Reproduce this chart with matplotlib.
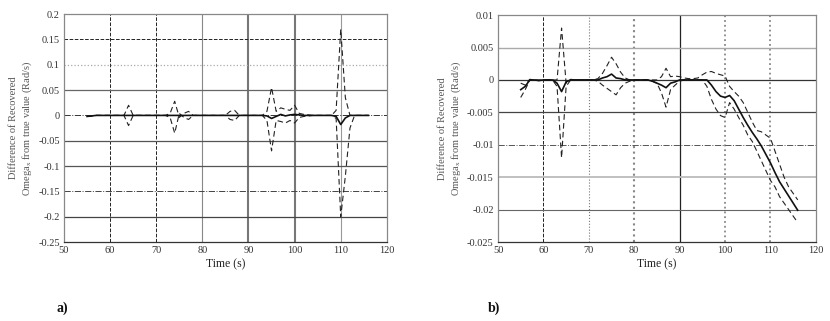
import numpy as np
import matplotlib
matplotlib.use("Agg")
import matplotlib.pyplot as plt

plt.rcParams['font.family'] = ['Liberation Serif', 'DejaVu Serif']
plt.rcParams['mathtext.fontset'] = 'custom'
plt.rcParams['mathtext.rm'] = 'Liberation Serif'
plt.rcParams['mathtext.it'] = 'Liberation Serif'

# time axis, 1 s steps
time = list(range(55, 117))

# panel a) values
a_mean = [-0.002, -0.001, 0, 0, 0, 0, 0, 0, 0, 0,
          0, 0, 0, 0, 0, 0, 0, 0, 0, 0,
          0, 0, 0, 0, 0, 0, 0, 0, 0, 0,
          0, 0, 0, 0, 0, 0, 0, 0, 0, -0.001,
          -0.006, -0.002, 0.002, -0.001, 0.001, 0.002, 0.001, 0, 0, 0,
          0, 0, 0, 0, -0.002, -0.018, -0.005, 0, 0, 0,
          0, 0]
a_upper = [-0.002, -0.001, 0, 0, 0, 0, 0, 0, 0, 0.02,
           0, 0, 0, 0, 0, 0, 0, 0, 0.004, 0.028,
           -0.004, 0.004, 0.008, 0, 0, 0, 0, 0, 0, 0,
           0, 0.008, 0.01, 0, 0, 0, 0, 0, 0, 0.008,
           0.055, 0.008, 0.015, 0.012, 0.01, 0.02, 0.004, 0.002, 0.001, 0,
           0, 0, 0, 0, 0.01, 0.17, 0.035, 0, 0, 0,
           0, 0]
a_lower = [-0.002, -0.001, 0, 0, 0, 0, 0, 0, 0, -0.02,
           0, 0, 0, 0, 0, 0, 0, 0, -0.004, -0.035,
           0.004, -0.004, -0.008, 0, 0, 0, 0, 0, 0, 0,
           0, -0.008, -0.01, 0, 0, 0, 0, 0, 0, -0.01,
           -0.07, -0.01, -0.012, -0.015, -0.01, -0.015, -0.004, -0.002, -0.001, 0,
           0, 0, 0, 0, -0.006, -0.2, -0.12, -0.025, 0, 0,
           0, 0]

# panel b) values
b_mean = [-0.0015, -0.001, 0, 0, -0.0001, 0, 0, 0, -0.0005, -0.0018,
          -0.0003, 0, 0, 0, 0, 0, 0, 0, 0.0003, 0.0005,
          0.0009, 0.0003, 0.0002, 0, 0, 0, 0, 0, 0, -0.0002,
          -0.0005, -0.0008, -0.0012, -0.0005, -0.0003, 0, 0, 0, 0, 0,
          0, 0, -0.0008, -0.0018, -0.0025, -0.0027, -0.0024, -0.0032, -0.0045, -0.0058,
          -0.007, -0.0081, -0.0091, -0.0102, -0.0115, -0.0128, -0.0143, -0.0157, -0.0168, -0.0179,
          -0.019, -0.0201]
b_upper = [-0.0005, -0.0008, 0.0001, 0, 0, 0, 0, 0, 0, 0.008,
           -0.0005, 0.0001, 0, 0, 0, 0, 0, 0.0002, 0.001, 0.0022,
           0.0035, 0.0025, 0.0012, 0.0003, 0, 0, 0, 0, 0, 0,
           0, 0.0005, 0.0018, 0.0005, 0.0006, 0.0005, 0.0003, 0.0002, 0.0002, 0.0003,
           0.0008, 0.0012, 0.0013, 0.001, 0.0008, 0.0006, -0.001, -0.0018, -0.0025, -0.0035,
           -0.005, -0.0065, -0.0078, -0.008, -0.0085, -0.009, -0.011, -0.013, -0.015, -0.0165,
           -0.0175, -0.0185]
b_lower = [-0.0027, -0.0015, 0, 0, -0.0001, 0, 0, 0, -0.001, -0.012,
           -0.001, 0, 0, 0, 0, 0, 0, -0.0002, -0.0008, -0.0013,
           -0.0018, -0.0023, -0.0012, -0.0005, -0.0002, 0, 0, 0, 0, -0.0002,
           -0.0005, -0.002, -0.0042, -0.0015, -0.0008, -0.0002, 0, 0, 0, 0,
           0, -0.001, -0.003, -0.0045, -0.0055, -0.0058, -0.0035, -0.0045, -0.0058, -0.007,
           -0.0085, -0.0095, -0.011, -0.0125, -0.014, -0.0155, -0.0165, -0.018, -0.019, -0.02,
           -0.021, -0.022]

x_ticks = [50, 60, 70, 80, 90, 100, 110, 120]
a_yticks = [0.2, 0.15, 0.1, 0.05, 0, -0.05, -0.1, -0.15, -0.2, -0.25]
a_ylabels = ['0.2', '0.15', '0.1', '0.05', '0', '-0.05', '-0.1', '-0.15', '-0.2', '-0.25']
b_yticks = [0.01, 0.005, 0, -0.005, -0.01, -0.015, -0.02, -0.025]
b_ylabels = ['0.01', '0.005', '0', '-0.005', '-0.01', '-0.015', '-0.02', '-0.025']

# grid styles (linestyle, colour, width) for interior lines
a_vgrid = {60: ('--', '#222', 0.7), 70: ('--', '#222', 0.7), 80: ('-', '#888', 0.8),
           90: ('-', '#777', 1.5), 100: ('-', '#777', 1.5), 110: ('-', '#999', 0.8)}
a_hgrid = {0.15: ('--', '#222', 0.7), 0.1: (':', '#aaa', 0.9), 0.05: ('-', '#666', 0.9),
           0: ('-.', '#333', 0.7), -0.05: ('-', '#555', 0.9), -0.1: ('-', '#555', 0.9),
           -0.15: ('-.', '#444', 0.7), -0.2: ('-', '#444', 0.9)}
b_vgrid = {60: ('--', '#222', 0.7), 70: (':', '#777', 0.8), 80: (':', '#888', 1.5),
           90: ('-', '#222', 0.9), 100: (':', '#888', 1.3), 110: (':', '#888', 1.3)}
b_hgrid = {0.005: ('-', '#aaa', 1.0), 0: ('-', '#333', 0.9), -0.005: ('-', '#444', 0.9),
           -0.01: ('-.', '#555', 0.7), -0.015: ('-', '#bbb', 1.3), -0.02: ('-', '#666', 0.8)}

fig = plt.figure(figsize=(8.3, 3.21), dpi=100)
ax_a = fig.add_axes([0.0771, 0.246, 0.389, 0.710])
ax_b = fig.add_axes([0.600, 0.246, 0.383, 0.707])

ylabel = 'Difference of Recovered\nOmega$_{\\mathregular{x}}$ from true value (Rad/s)'

def draw_panel(ax, mean, upper, lower, yticks, ylabels, vgrid, hgrid, tag, tag_x):
    for xv, (ls, c, lw) in vgrid.items():
        ax.axvline(xv, ls=ls, color=c, lw=lw, zorder=1)
    for yv, (ls, c, lw) in hgrid.items():
        ax.axhline(yv, ls=ls, color=c, lw=lw, zorder=1)
    ax.plot(time, upper, ls=(0, (5, 3)), color='#222', lw=0.8, zorder=3)
    ax.plot(time, lower, ls=(0, (5, 3)), color='#222', lw=0.8, zorder=3)
    ax.plot(time, mean, ls='-', color='#111', lw=1.2, zorder=4)
    ax.set_xlim(50, 120)
    ax.set_ylim(min(yticks), max(yticks))
    ax.set_xticks(x_ticks)
    ax.set_yticks(yticks)
    ax.set_yticklabels(ylabels)
    ax.tick_params(length=0, labelsize=7.5, colors='#333', pad=3)
    for s in ax.spines.values():
        s.set_color('#888')
        s.set_linewidth(0.9)
    ax.spines['bottom'].set_color('#333')
    ax.set_xlabel('Time (s)', fontsize=8.5, color='#222', labelpad=2)
    ax.set_ylabel(ylabel, fontsize=7.5, color='#555', labelpad=3, linespacing=1.3)
    fig.text(tag_x, 0.03, tag, fontsize=10, fontweight='bold', color='#111')

draw_panel(ax_a, a_mean, a_upper, a_lower, a_yticks, a_ylabels, a_vgrid, a_hgrid, 'a)', 0.068)
draw_panel(ax_b, b_mean, b_upper, b_lower, b_yticks, b_ylabels, b_vgrid, b_hgrid, 'b)', 0.588)

fig.savefig('out.png', dpi=100)
